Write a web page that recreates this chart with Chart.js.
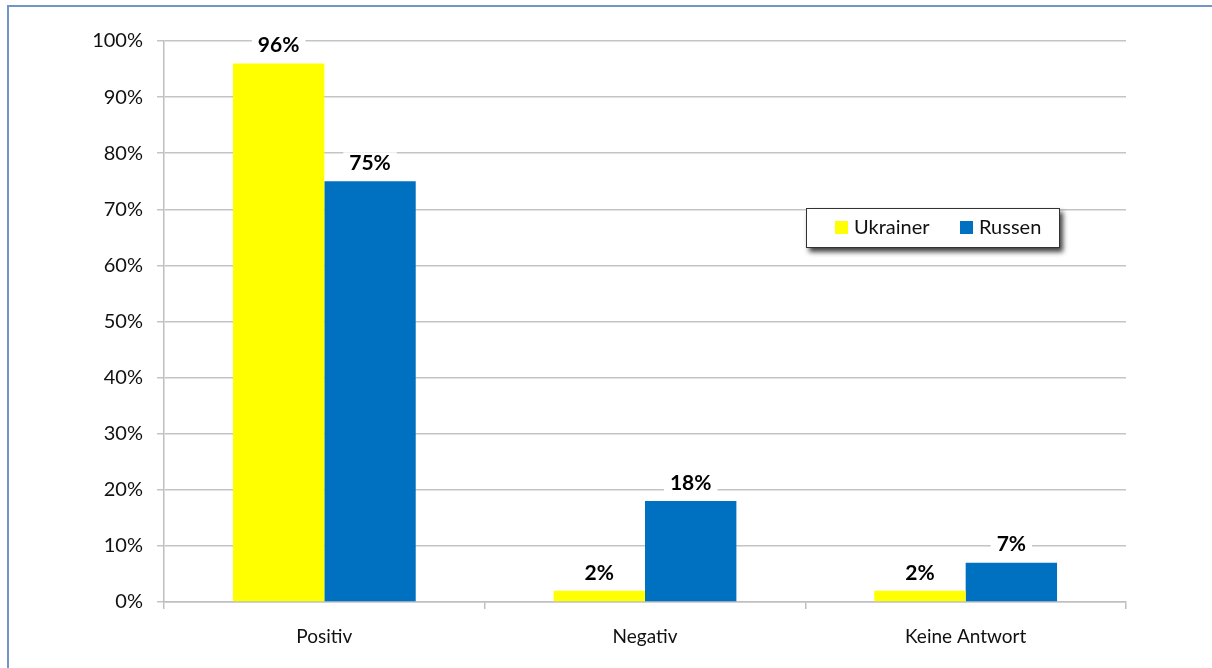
<!DOCTYPE html>
<html>
<head>
<meta charset="utf-8">
<script src="https://cdn.jsdelivr.net/npm/chart.js@4/dist/chart.umd.min.js"></script>
<style>
  html, body { margin: 0; padding: 0; background: #fff; overflow: hidden; }
  #frame { position: absolute; left: 7px; top: 5px; width: 1240px; height: 700px; border: 2px solid #7096c8; box-sizing: border-box; }
  #wrap { position: absolute; left: 0; top: 0; width: 1212px; height: 668px; }
</style>
</head>
<body>
<div id="frame"></div>
<div id="wrap"><canvas id="chart" width="1212" height="668"></canvas></div>
<script>
const categories = ["Positiv", "Negativ", "Keine Antwort"];
const ukrainer = [96, 2, 2];
const russen = [75, 18, 7];
const seriesNames = ["Ukrainer", "Russen"];
const seriesColors = ["#ffff00", "#0070c0"];
const FONT = "Lato, 'Open Sans', sans-serif";

// value labels above bars, with white background cutting the gridlines
const valueLabels = {
  id: "valueLabels",
  afterDatasetsDraw(chart) {
    const ctx = chart.ctx;
    ctx.save();
    ctx.font = "bold 21px " + FONT;
    ctx.textAlign = "center";
    ctx.textBaseline = "middle";
    chart.data.datasets.forEach((ds, i) => {
      chart.getDatasetMeta(i).data.forEach((bar, j) => {
        const txt = ds.data[j] + "%";
        const w = ctx.measureText(txt).width;
        const y = bar.y - 18;
        ctx.fillStyle = "#fff";
        ctx.fillRect(bar.x - w / 2 - 6, y - 11, w + 12, 22);
        ctx.fillStyle = "#000";
        ctx.fillText(txt, bar.x, y);
      });
    });
    ctx.restore();
  },
};

// boxed legend with drop shadow
const boxLegend = {
  id: "boxLegend",
  afterDraw(chart) {
    const ctx = chart.ctx;
    const x = 806, y = 208, w = 254, h = 40;
    ctx.save();
    ctx.shadowColor = "rgba(0,0,0,0.75)";
    ctx.shadowBlur = 5;
    ctx.shadowOffsetX = 3;
    ctx.shadowOffsetY = 4;
    ctx.fillStyle = "#fff";
    ctx.fillRect(x, y, w, h);
    ctx.restore();
    ctx.save();
    ctx.strokeStyle = "#333";
    ctx.lineWidth = 1;
    ctx.strokeRect(x + 0.5, y + 0.5, w - 1, h - 1);
    ctx.font = "20px " + FONT;
    ctx.textBaseline = "middle";
    const starts = [835, 960];
    chart.data.datasets.forEach((ds, i) => {
      ctx.fillStyle = ds.backgroundColor;
      ctx.fillRect(starts[i], y + 13, 13, 13);
      ctx.fillStyle = "#111";
      ctx.fillText(ds.label, starts[i] + 19, y + 20);
    });
    ctx.restore();
  },
};

new Chart(document.getElementById("chart"), {
  type: "bar",
  data: {
    labels: categories,
    datasets: [
      { label: seriesNames[0], data: ukrainer, backgroundColor: seriesColors[0] },
      { label: seriesNames[1], data: russen, backgroundColor: seriesColors[1] },
    ],
  },
  options: {
    responsive: false,
    animation: false,
    devicePixelRatio: 1,
    layout: { padding: { top: 41, right: 86, left: 0, bottom: 0 } },
    datasets: { bar: { categoryPercentage: 0.57, barPercentage: 1.0 } },
    plugins: { legend: { display: false }, tooltip: { enabled: false } },
    scales: {
      x: {
        afterFit: (s) => { s.height = 66; },
        grid: { offset: true, drawOnChartArea: false, drawTicks: true, tickLength: 7, color: "#bfbfbf", lineWidth: 1.5 },
        border: { color: "#bfbfbf", width: 1.5 },
        ticks: { color: "#111", padding: 16, font: { family: FONT, size: 19 } },
      },
      y: {
        min: 0,
        max: 100,
        afterFit: (s) => { s.width = 164; },
        grid: { color: "#c4c4c4", lineWidth: 1.5, tickLength: 7 },
        border: { color: "#bfbfbf", width: 1.5 },
        ticks: { stepSize: 10, color: "#111", padding: 14, font: { family: FONT, size: 20 }, callback: (v) => v + "%" },
      },
    },
  },
  plugins: [valueLabels, boxLegend],
});
</script>
</body>
</html>
